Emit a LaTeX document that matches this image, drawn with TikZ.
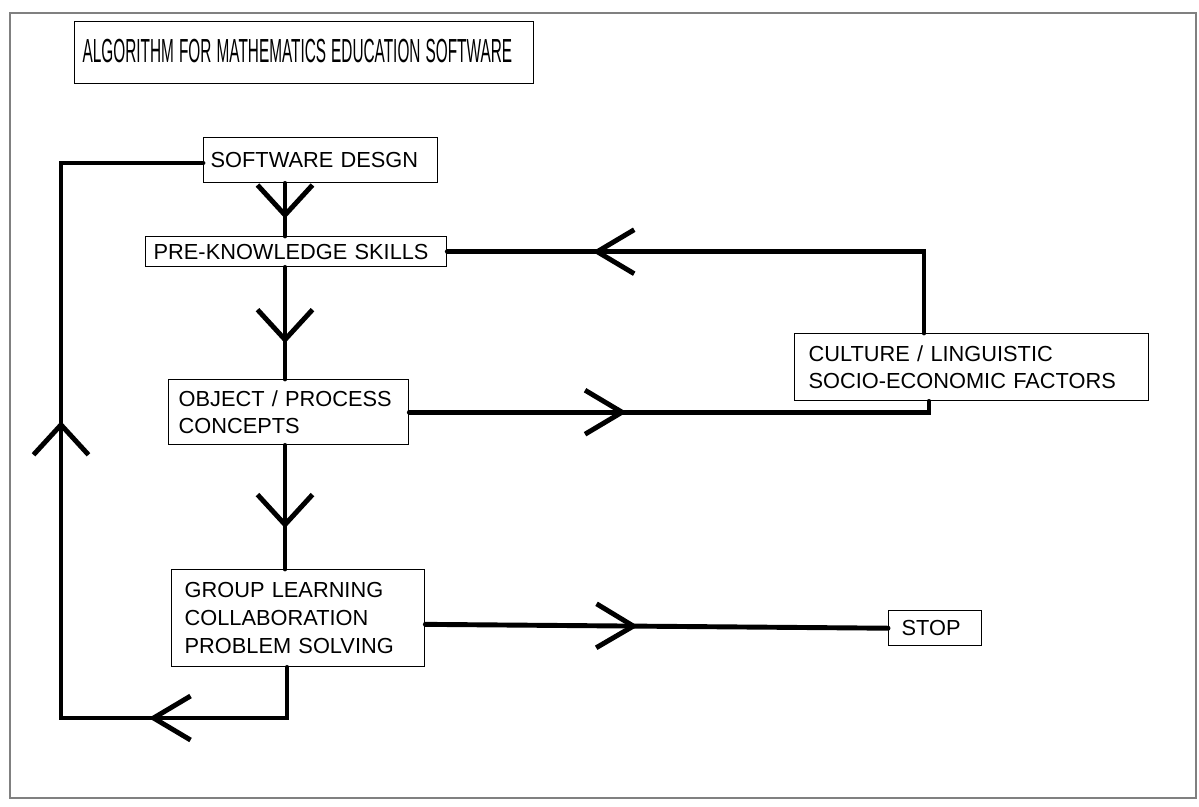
\documentclass[tikz,border=0pt]{standalone}
\usepackage{fontspec}
\setmainfont{Liberation Sans}
\usetikzlibrary{arrows.meta}
\usetikzlibrary{decorations.markings}
\tikzset{
box/.style={draw,line width=0.8pt,anchor=north west,align=left,inner ysep=0pt,font=\fontsize{12.4}{15.9}\selectfont},
wire/.style={line width=2.8pt,line cap=round},
vbarb/.tip={Straight Barb[length=6mm,width=11mm]},
hbarb/.tip={Straight Barb[length=7.4mm,width=8.8mm]},
downat/.style={postaction={decorate},decoration={markings,mark=at position #1 with {\arrow{vbarb}}}},
sideat/.style={postaction={decorate},decoration={markings,mark=at position #1 with {\arrow{hbarb}}}},
}

\begin{document}
\begin{tikzpicture}[x=0.02cm,y=-0.02cm]
\useasboundingbox (0,0) rectangle (1199,806);
\draw[gray,line width=0.6pt] (10,13) rectangle (1196,798);
\node[box,inner xsep=0.16cm,text width=8.86cm,minimum height=1.24cm,font=\fontsize{19}{20}\selectfont] (head) at (74,21) {\raisebox{2pt}{\scalebox{0.46}[1]{ALGORITHM FOR MATHEMATICS EDUCATION SOFTWARE}}};
\node[box,inner xsep=0.14cm,text width=4.4cm,minimum height=0.9cm] (soft) at (203,137) {SOFTWARE DESGN};
\node[box,inner xsep=0.16cm,text width=5.7cm,minimum height=0.6cm] (pre) at (145,236) {PRE-KNOWLEDGE SKILLS};
\node[box,inner xsep=0.2cm,text width=4.4cm,minimum height=1.3cm] (obj) at (168,379) {OBJECT / PROCESS\\CONCEPTS};
\node[box,inner xsep=0.26cm,text width=4.54cm,minimum height=1.94cm] (grp) at (171,569) {GROUP LEARNING\\COLLABORATION\\PROBLEM SOLVING};
\node[box,inner xsep=0.28cm,text width=6.52cm,minimum height=1.34cm] (cult) at (794,333) {CULTURE / LINGUISTIC\\SOCIO-ECONOMIC FACTORS};
\node[box,inner xsep=0.26cm,text width=1.34cm,minimum height=0.7cm] (stop) at (888,610) {STOP};
\coordinate (sp) at (285,0);
\coordinate (c1) at (287,718);
\coordinate (c2) at (61,718);
\coordinate (c3) at (61,163);
\coordinate (c4) at (929,0);
\coordinate (c5) at (924,0);
% main column
\draw[wire,downat=0.67] (soft.south -| sp) -- (pre.north -| sp);
\draw[wire,downat=0.68] (pre.south -| sp) -- (obj.north -| sp);
\draw[wire,downat=0.67] (obj.south -| sp) -- (grp.north -| sp);
% side branches
\draw[wire,sideat=0.41] (obj.east) -- (obj.east -| c4) -- (cult.south -| c4);
\draw[wire,sideat=0.74] (cult.north -| c5) -- (pre.east -| c5) -- (pre.east);
\draw[wire,sideat=0.46] ([yshift=-3.5]grp.east) -- (stop.west);
% loop back
\draw[wire,postaction={decorate},decoration={markings,mark=at position 0.194 with {\arrow{hbarb}},mark=at position 0.589 with {\arrow{vbarb}}}] (grp.south -| c1) -- (c1) -- (c2) -- (c3) -- (c3 -| soft.west);
\end{tikzpicture}
\end{document}
